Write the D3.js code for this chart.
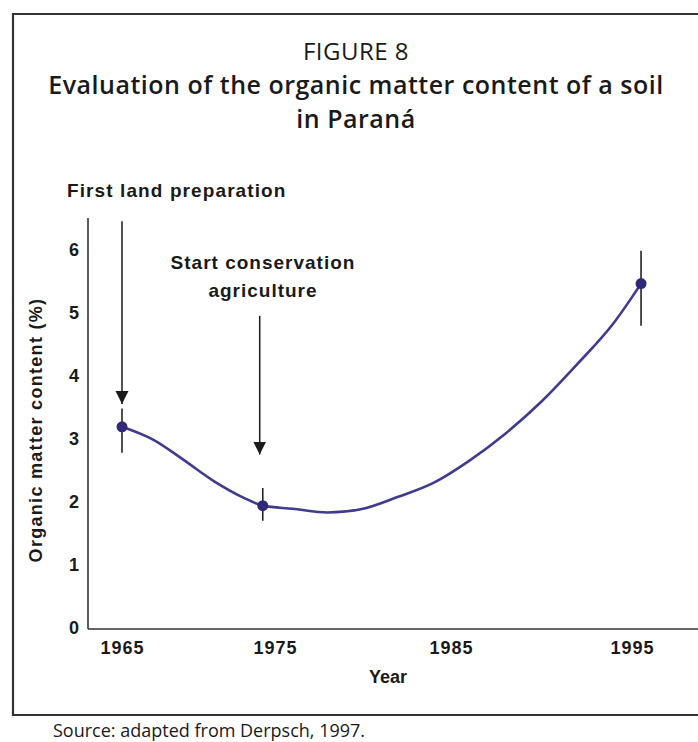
<!DOCTYPE html>
<html>
<head>
<meta charset="utf-8">
<script src="https://cdn.jsdelivr.net/npm/d3@7"></script>
<style>
  body { margin: 0; background: #fff; }
  svg { display: block; }
</style>
</head>
<body>
<div id="chart"></div>
<script>
// tick labels on the year axis
var tickYears = [1965, 1975, 1985, 1995];
var tickValues = [0, 1, 2, 3, 4, 5, 6];

// measured samples (organic matter %, with range bars)
var sampleYears = [1965, 1974.2, 1995.5];
var omMean = [3.19, 1.94, 5.46];
var omHigh = [3.48, 2.22, 5.98];
var omLow = [2.78, 1.70, 4.79];

// fitted trend
var trendYears = [1965, 1967, 1969, 1971, 1973, 1974.2, 1976, 1978, 1980, 1982, 1984, 1986, 1988, 1990, 1992, 1994, 1995.5];
var trendValues = [3.19, 2.99, 2.67, 2.33, 2.06, 1.94, 1.89, 1.83, 1.89, 2.08, 2.30, 2.65, 3.08, 3.59, 4.19, 4.84, 5.46];

// the two arrows
var eventYears = [1965, 1974];
var eventFrom = [6.45, 4.95];
var eventTo = [3.55, 2.75];

(function() {
  var width = 698,
      height = 742;

  var svg = d3.select("#chart")
      .append("svg")
      .attr("width", width)
      .attr("height", height);

  var labelFont = "'Liberation Sans', Arial, sans-serif";
  var titleFont = "'Open Sans', 'Noto Sans', sans-serif";

  // the year labels in the original are not evenly spaced, so a piecewise scale
  var x = d3.scaleLinear()
    .domain(tickYears)
    .range([122, 275, 451, 632]);

  var y = d3.scaleLinear()
    .domain([0, 6.5])
    .range([628, 218]);

  // frame round the figure
  svg.append("path")
    .attr("d", "M 720 14 H 13 V 715 H 720")
    .attr("fill", "none")
    .attr("stroke", "#333")
    .attr("stroke-width", 2.2);

  // titles
  svg.append("text")
    .attr("x", 356).attr("y", 60)
    .attr("text-anchor", "middle")
    .attr("font-family", titleFont)
    .attr("font-size", 24)
    .attr("letter-spacing", 0.5)
    .attr("fill", "#1a1a1a")
    .text("FIGURE 8");

  svg.append("text")
    .attr("x", 356).attr("y", 94)
    .attr("text-anchor", "middle")
    .attr("font-family", titleFont)
    .attr("font-weight", 600)
    .attr("font-size", 25)
    .attr("letter-spacing", 0.5)
    .attr("fill", "#1a1a1a")
    .text("Evaluation of the organic matter content of a soil");

  svg.append("text")
    .attr("x", 356).attr("y", 128)
    .attr("text-anchor", "middle")
    .attr("font-family", titleFont)
    .attr("font-weight", 600)
    .attr("font-size", 25)
    .attr("letter-spacing", 0.5)
    .attr("fill", "#1a1a1a")
    .text("in Paraná");

  // axis lines
  svg.append("line")
    .attr("x1", 88).attr("x2", 88)
    .attr("y1", y(6.5)).attr("y2", y(0) + 1)
    .attr("stroke", "#333").attr("stroke-width", 1.6);
  svg.append("line")
    .attr("x1", 88).attr("x2", width)
    .attr("y1", y(0) + 1).attr("y2", y(0) + 1)
    .attr("stroke", "#333").attr("stroke-width", 1.6);

  // tick labels via axes, no tick marks
  var xAxis = svg.append("g")
    .attr("transform", "translate(0," + (y(0) + 1) + ")")
    .call(d3.axisBottom(x).tickValues(tickYears).tickFormat(d3.format("d")).tickSize(0).tickPadding(12));
  xAxis.select(".domain").remove();
  xAxis.selectAll("text")
    .attr("font-family", labelFont)
    .attr("font-weight", "bold")
    .attr("font-size", 18)
    .attr("letter-spacing", 1)
    .attr("fill", "#1a1a1a");

  var yAxis = svg.append("g")
    .attr("transform", "translate(79,0)")
    .call(d3.axisLeft(y).tickValues(tickValues).tickFormat(d3.format("d")).tickSize(0).tickPadding(0));
  yAxis.select(".domain").remove();
  yAxis.selectAll("text")
    .attr("font-family", labelFont)
    .attr("font-weight", "bold")
    .attr("font-size", 18)
    .attr("fill", "#1a1a1a");

  svg.append("text")
    .attr("x", 388).attr("y", 683)
    .attr("text-anchor", "middle")
    .attr("font-family", labelFont)
    .attr("font-weight", "bold")
    .attr("font-size", 18)
    .attr("fill", "#1a1a1a")
    .text("Year");

  svg.append("text")
    .attr("transform", "translate(42,430) rotate(-90)")
    .attr("text-anchor", "middle")
    .attr("font-family", labelFont)
    .attr("font-weight", "bold")
    .attr("font-size", 18)
    .attr("letter-spacing", 1.3)
    .attr("fill", "#1a1a1a")
    .text("Organic matter content (%)");

  // arrows with the event labels
  var defs = svg.append("defs");
  defs.append("marker")
    .attr("id", "head")
    .attr("markerUnits", "userSpaceOnUse")
    .attr("markerWidth", 14).attr("markerHeight", 14)
    .attr("viewBox", "0 0 14 14")
    .attr("refX", 13).attr("refY", 7)
    .attr("orient", "auto")
    .append("path")
    .attr("d", "M 0 0.5 L 13 7 L 0 13.5 Z")
    .attr("fill", "#1a1a1a");

  eventYears.forEach(function(yr, i) {
    svg.append("line")
      .attr("x1", x(yr)).attr("x2", x(yr))
      .attr("y1", y(eventFrom[i])).attr("y2", y(eventTo[i]))
      .attr("stroke", "#1a1a1a").attr("stroke-width", 1.5)
      .attr("marker-end", "url(#head)");
  });

  svg.append("text")
    .attr("x", 67).attr("y", 197)
    .attr("font-family", labelFont)
    .attr("font-weight", "bold")
    .attr("font-size", 19)
    .attr("letter-spacing", 1.1)
    .attr("fill", "#1a1a1a")
    .text("First land preparation");

  svg.append("text")
    .attr("x", 263).attr("y", 269)
    .attr("text-anchor", "middle")
    .attr("font-family", labelFont)
    .attr("font-weight", "bold")
    .attr("font-size", 19)
    .attr("letter-spacing", 1.0)
    .attr("fill", "#1a1a1a")
    .text("Start conservation");
  svg.append("text")
    .attr("x", 263).attr("y", 297)
    .attr("text-anchor", "middle")
    .attr("font-family", labelFont)
    .attr("font-weight", "bold")
    .attr("font-size", 19)
    .attr("letter-spacing", 1.0)
    .attr("fill", "#1a1a1a")
    .text("agriculture");

  // range bars
  svg.selectAll(".range")
    .data(sampleYears)
    .enter().append("line")
    .attr("class", "range")
    .attr("x1", function(d) { return x(d); })
    .attr("x2", function(d) { return x(d); })
    .attr("y1", function(d, i) { return y(omHigh[i]); })
    .attr("y2", function(d, i) { return y(omLow[i]); })
    .attr("stroke", "#222")
    .attr("stroke-width", 1.6);

  // trend curve
  var line = d3.line()
    .x(function(d, i) { return x(d); })
    .y(function(d, i) { return y(trendValues[i]); })
    .curve(d3.curveMonotoneX);

  svg.append("path")
    .datum(trendYears)
    .attr("d", line)
    .attr("fill", "none")
    .attr("stroke", "#3f3b8e")
    .attr("stroke-width", 2.6)
    .attr("stroke-linecap", "round");

  svg.selectAll(".pt")
    .data(sampleYears)
    .enter().append("circle")
    .attr("class", "pt")
    .attr("cx", function(d) { return x(d); })
    .attr("cy", function(d, i) { return y(omMean[i]); })
    .attr("r", 5.5)
    .attr("fill", "#2e2a78");

  svg.append("text")
    .attr("x", 53).attr("y", 737)
    .attr("font-family", titleFont)
    .attr("font-size", 18)
    .attr("fill", "#1a1a1a")
    .text("Source: adapted from Derpsch, 1997.");
})();
</script>
</body>
</html>
